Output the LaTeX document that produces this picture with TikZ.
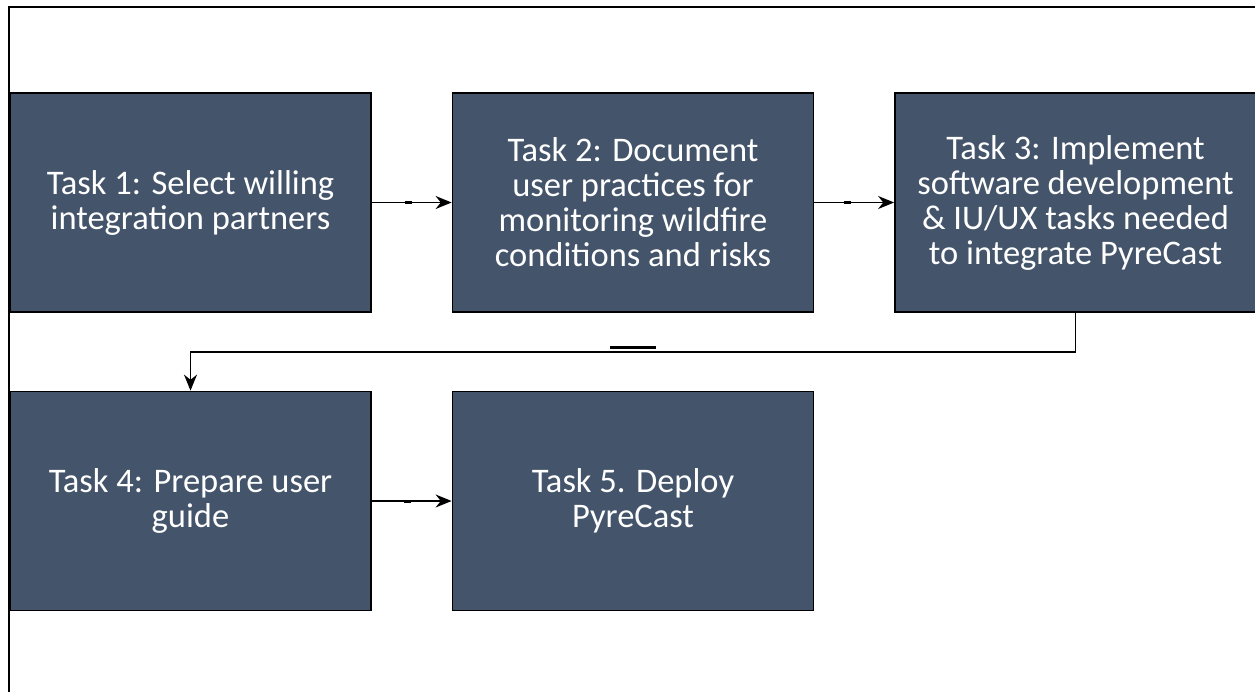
\documentclass[tikz,border=0pt]{standalone}
\usepackage{fontspec}
\setmainfont{Carlito}
\usepackage{xcolor}
\usetikzlibrary{arrows.meta,positioning}

\definecolor{taskfill}{HTML}{44546A}

\begin{document}
\begin{tikzpicture}[x=1pt,y=-1pt,
	task/.style={draw=black, line width=1.8pt, fill=taskfill, text=white,
		minimum width=361pt, minimum height=219pt, inner sep=0pt,
		align=center, font=\fontsize{34.5}{35}\selectfont},
	link/.style={draw=black, line width=1.6pt, -{Stealth[length=16pt,width=13pt]}},
	tick/.style={fill=black, inner sep=0pt, minimum width=7pt, minimum height=3pt},
	longtick/.style={fill=black, inner sep=0pt, minimum width=46pt, minimum height=3.5pt}]
	\useasboundingbox (0,0) rectangle (1255,691);
	\draw[line width=1.8pt] (9,7) rectangle (1270,710);
	% first row
	\node[task] (task1) at (190.5,202.5) {Task 1: Select willing\\integration partners};
	\node[task] (task2) at (633,202.5) {Task 2: Document\\user practices for\\monitoring wildfire\\conditions and risks};
	\node[task] (task3) at (1075.5,202.5) {Task 3: Implement\\software development\\\& IU/UX tasks needed\\to integrate PyreCast};
	% second row
	\node[task] (task4) at (190.5,501) {Task 4: Prepare user\\guide};
	\node[task] (task5) at (633,501) {Task 5. Deploy\\PyreCast};
	% connectors
	\draw[link] (task1) -- node[pos=0.46, tick] {} (task2);
	\draw[link] (task2) -- node[pos=0.42, tick] {} (task3);
	\draw[link] (task3.south) -- ++(0,39) -| node[pos=0.25, above=2pt, longtick] {} (task4.north);
	\draw[link] (task4) -- node[pos=0.45, tick] {} (task5);
\end{tikzpicture}
\end{document}
